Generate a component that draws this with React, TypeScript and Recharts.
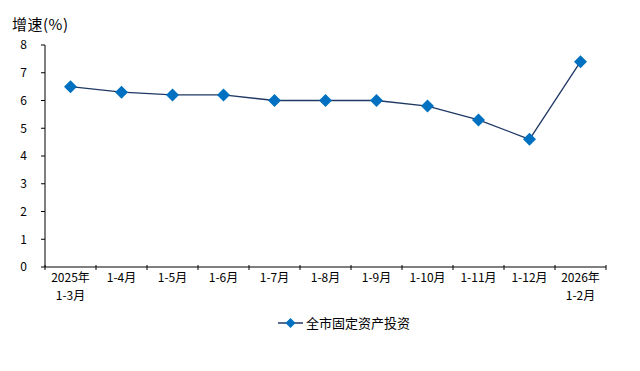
import React from "react";
import { LineChart, Line, XAxis, YAxis, Legend } from "recharts";

const categories: string[][] = [
  ["2025年", "1-3月"],
  ["1-4月"],
  ["1-5月"],
  ["1-6月"],
  ["1-7月"],
  ["1-8月"],
  ["1-9月"],
  ["1-10月"],
  ["1-11月"],
  ["1-12月"],
  ["2026年", "1-2月"],
];
const growth: number[] = [6.5, 6.3, 6.2, 6.2, 6.0, 6.0, 6.0, 5.8, 5.3, 4.6, 7.4];
const yTicks: number[] = [0, 1, 2, 3, 4, 5, 6, 7, 8];
const seriesName = "全市固定资产投资";
const yTitle = "增速(%)";

const data = growth.map((v, i) => ({ x: i + 0.5, v }));

const W = 640;
const H = 371;
const M = { top: 45, right: 34, left: 0, bottom: 38 };
const Y_W = 45;
const PLOT_L = M.left + Y_W;
const PLOT_R = W - M.right;
const BAND = (PLOT_R - PLOT_L) / categories.length;
const FONT = "'Noto Sans CJK SC', sans-serif";
const LINE_COLOR = "#1F3864";
const MARK_COLOR = "#0070C0";

const Diamond = (props: any) => {
  const { cx, cy } = props;
  if (cx == null || cy == null) return null;
  const r = 6.5;
  return (
    <polygon
      points={`${cx},${cy - r} ${cx + r},${cy} ${cx},${cy + r} ${cx - r},${cy}`}
      fill={MARK_COLOR}
      stroke="none"
    />
  );
};

const XTick = (props: any) => {
  const { x, y, payload } = props;
  const idx = Math.round(payload.value - 0.5);
  const lines = categories[idx] || [];
  const axisY = y - 8;
  const left = x - BAND / 2;
  const right = x + BAND / 2;
  return (
    <g>
      <line x1={left} y1={axisY} x2={left} y2={axisY + 5} stroke="#000" strokeWidth={1} />
      {idx === categories.length - 1 && (
        <line x1={right} y1={axisY} x2={right} y2={axisY + 5} stroke="#000" strokeWidth={1} />
      )}
      <text textAnchor="middle" fontSize={12} fontFamily={FONT} fill="#000">
        {lines.map((l, i) => (
          <tspan key={i} x={x} y={axisY + 17 + i * 18}>
            {l}
          </tspan>
        ))}
      </text>
    </g>
  );
};

const LegendContent = () => (
  <div style={{ position: "relative", height: 20, width: "100%" }}>
    <svg width={W} height={20} style={{ position: "absolute", left: 0, top: 0, overflow: "visible" }}>
      <line x1={278} y1={10} x2={303} y2={10} stroke={LINE_COLOR} strokeWidth={1.5} />
      <polygon points="290.5,5 295.5,10 290.5,15 285.5,10" fill={MARK_COLOR} />
      <text x={306} y={14.5} fontSize={13} fontFamily={FONT} fill="#000">
        {seriesName}
      </text>
    </svg>
  </div>
);

export default function App() {
  return (
    <div style={{ position: "absolute", left: 0, top: 0, width: W, height: H, background: "#fff" }}>
      <div
        style={{
          position: "absolute",
          left: 12,
          top: 15,
          fontFamily: FONT,
          fontSize: 15,
          color: "#000",
          lineHeight: "18px",
          letterSpacing: 0.5,
        }}
      >
        {yTitle}
      </div>
      <LineChart width={W} height={H} data={data} margin={M}>
        <XAxis
          dataKey="x"
          type="number"
          domain={[0, categories.length]}
          ticks={data.map((d) => d.x)}
          interval={0}
          tickLine={false}
          axisLine={{ stroke: "#000", strokeWidth: 1 }}
          tick={<XTick />}
          tickMargin={0}
          height={46}
          allowDataOverflow
        />
        <YAxis
          type="number"
          domain={[0, 8]}
          ticks={yTicks}
          interval={0}
          width={Y_W}
          tickSize={4}
          tickMargin={14}
          tickLine={{ stroke: "#000" }}
          axisLine={{ stroke: "#000", strokeWidth: 1 }}
          tick={{ fill: "#000", fontSize: 12, fontFamily: FONT }}
        />
        <Legend verticalAlign="bottom" height={20} content={<LegendContent />} />
        <Line
          dataKey="v"
          name={seriesName}
          stroke={LINE_COLOR}
          strokeWidth={1.3}
          dot={<Diamond />}
          activeDot={false}
          isAnimationActive={false}
        />
      </LineChart>
    </div>
  );
}
